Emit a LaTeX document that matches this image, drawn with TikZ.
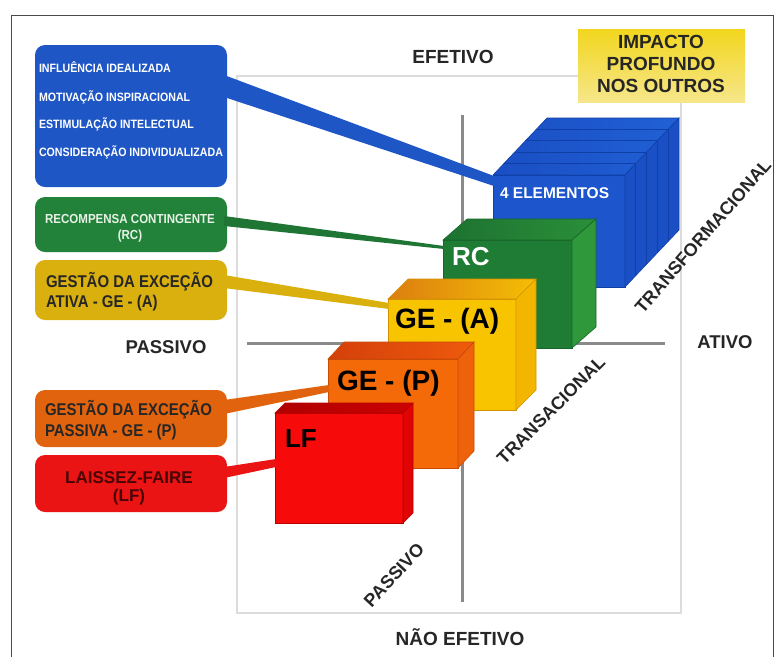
\documentclass[tikz,border=0pt]{standalone}
\usepackage{fontspec}
\setmainfont{Liberation Sans}
\newfontfamily\condf{Liberation Sans}[FakeStretch=0.88]
\usetikzlibrary{calc}
\definecolor{frameC}{HTML}{4A4A4A}
\definecolor{innerC}{HTML}{DCDCDC}
\definecolor{axisC}{HTML}{8A8A8A}
\definecolor{blueC}{HTML}{1E56C5}
\definecolor{blueF}{HTML}{1D55CC}
\definecolor{blueTopL}{HTML}{1A4EC4}
\definecolor{blueTopR}{HTML}{2160D6}
\definecolor{blueSide}{HTML}{1A4FC6}
\definecolor{blueEdge}{HTML}{1040A6}
\definecolor{greenC}{HTML}{22823A}
\definecolor{greenF}{HTML}{1F7C34}
\definecolor{greenTopL}{HTML}{1D7230}
\definecolor{greenTopR}{HTML}{2A8F3A}
\definecolor{greenSide}{HTML}{2E983A}
\definecolor{greenEdge}{HTML}{17672A}
\definecolor{yellowC}{HTML}{DAB00E}
\definecolor{yellowF}{HTML}{F8C400}
\definecolor{yellowTopL}{HTML}{DC7E10}
\definecolor{yellowTopR}{HTML}{F4BE05}
\definecolor{yellowSide}{HTML}{F3B600}
\definecolor{yellowEdge}{HTML}{D49200}
\definecolor{orangeC}{HTML}{E1630E}
\definecolor{orangeF}{HTML}{F56A08}
\definecolor{orangeTopL}{HTML}{D4400A}
\definecolor{orangeTopR}{HTML}{EE5A0C}
\definecolor{orangeSide}{HTML}{EE620C}
\definecolor{orangeEdge}{HTML}{C84A06}
\definecolor{redC}{HTML}{EA1414}
\definecolor{redF}{HTML}{F70A0A}
\definecolor{redTopL}{HTML}{B00000}
\definecolor{redTopR}{HTML}{CC0202}
\definecolor{redSide}{HTML}{E00404}
\definecolor{redEdge}{HTML}{B80000}
\definecolor{impactC}{HTML}{F2D61E}
\definecolor{impactL}{HTML}{F6E68A}
\definecolor{darkTxt}{HTML}{262626}
\definecolor{redTxt}{HTML}{4A0404}
\definecolor{greenTxt}{HTML}{E6F2E6}

\newcommand{\cubefaces}[7]{%
  \shadedraw[left color=#4, right color=#5, draw=#7, line width=0.6pt]
    (#1.north west) -- ++(#2,#3) -- ($(#1.north east)+(#2,#3)$) -- (#1.north east) -- cycle;
  \filldraw[fill=#6, draw=#7, line width=0.6pt]
    (#1.north east) -- ++(#2,#3) -- ($(#1.south east)+(#2,#3)$) -- (#1.south east) -- cycle;
}

\begin{document}
\begin{tikzpicture}[x=1pt,y=-1pt,
  every node/.style={inner sep=0pt, outer sep=0pt},
  lbox/.style={rounded corners=10pt, minimum width=192pt, anchor=north west},
  cfront/.style={anchor=north west, line width=0.6pt},
  axlab/.style={font=\fontsize{19}{19}\selectfont\bfseries, text=darkTxt, anchor=base},
  sidelab/.style={font=\fontsize{18.5}{18.5}\selectfont\bfseries, text=darkTxt, anchor=base},
  diaglab/.style={font=\fontsize{18}{18}\selectfont\bfseries, text=darkTxt, anchor=center},
  btxt/.style={font=\condf\fontsize{12.1}{12.1}\selectfont\bfseries, text=white, anchor=base west},
  gtxt/.style={font=\condf\fontsize{13.1}{13.1}\selectfont\bfseries, text=greenTxt, anchor=base},
  ytxt/.style={font=\condf\fontsize{17}{17}\selectfont\bfseries, text=darkTxt, anchor=base west},
  rtxt/.style={font=\fontsize{17}{17}\selectfont\bfseries, text=redTxt, anchor=base},
  cubelab/.style={font=\fontsize{28}{28}\selectfont\bfseries, anchor=base west},
]
\useasboundingbox (0,0) rectangle (779,657);
\fill[white] (0,0) rectangle (779,657);
% outer frame
\draw[frameC, line width=0.8pt] (11,657) -- (11,15) -- (773,15) -- (773,657);
% inner rectangle
\draw[innerC, line width=1.5pt] (237,76) rectangle (681,613);
% axes
\draw[axisC, line width=3pt] (462,115) -- (462,602);
\draw[axisC, line width=3pt] (247,343) -- (665,343);

% axis labels
\node[axlab] (efet) at (453,63) {EFETIVO};
\node[axlab] (naoefet) at (460,645) {NÃO EFETIVO};
\node[sidelab] (passL) at (166,353) {PASSIVO};
\node[sidelab] (ativo) at (725,348) {ATIVO};

% impact box
\node[shade, top color=impactC, bottom color=impactL, minimum width=167pt, minimum height=73pt, anchor=north west] (imp) at (578,29) {};
\node[axlab] (imp1) at (661,48) {IMPACTO};
\node[axlab] (imp2) at (661,70) {PROFUNDO};
\node[axlab] (imp3) at (661,92) {NOS OUTROS};

% left boxes
\node[lbox, fill=blueC, minimum height=142pt] (bbox) at (35,45) {};
\node[lbox, fill=greenC, minimum height=55pt] (gbox) at (35,197) {};
\node[lbox, fill=yellowC, minimum height=60pt] (ybox) at (35,260) {};
\node[lbox, fill=orangeC, minimum height=57pt] (obox) at (35,390) {};
\node[lbox, fill=redC, minimum height=57pt] (rbox) at (35,455) {};

\node[btxt] (b1) at (39,72) {INFLUÊNCIA IDEALIZADA};
\node[btxt] (b2) at (39,101) {MOTIVAÇÃO INSPIRACIONAL};
\node[btxt] (b3) at (39,128) {ESTIMULAÇÃO INTELECTUAL};
\node[btxt] (b4) at (39,156) {CONSIDERAÇÃO INDIVIDUALIZADA};
\node[gtxt] (g1) at (130,223) {RECOMPENSA CONTINGENTE};
\node[gtxt] (g2) at (130,239) {(RC)};
\node[ytxt] (y1) at (46,287) {GESTÃO DA EXCEÇÃO};
\node[ytxt] (y2) at (46,307) {ATIVA - GE - (A)};
\node[ytxt] (o1) at (45,415) {GESTÃO DA EXCEÇÃO};
\node[ytxt] (o2) at (45,436) {PASSIVA - GE - (P)};
\node[rtxt] (r1) at (129,483) {LAISSEZ-FAIRE};
\node[rtxt] (r2) at (129,501) {(LF)};

% cube front nodes (created first so the connectors can refer to them)
\node[cfront, fill=blueF, draw=blueEdge, minimum width=132pt, minimum height=112pt] (cB) at (493,175) {};
\cubefaces{cB}{54}{-57}{blueTopL}{blueTopR}{blueSide}{blueEdge}
\foreach \k in {1,2,3,4} {
  \draw[blueEdge, line width=1pt] ($(cB.north west)+(\k*10.8,-\k*11.4)$) -- ($(cB.north east)+(\k*10.8,-\k*11.4)$)
    -- ($(cB.south east)+(\k*10.8,-\k*11.4)$);
}
\node[font=\fontsize{15.5}{15.5}\selectfont\bfseries, text=white, anchor=base west] (lB) at (500,198) {4 ELEMENTOS};

% connectors (tapering wedges) drawn under the cubes in front
\fill[blueC] ($(bbox.north east)+(-3,30)$) -- ($(cB.north west)+(1,1)$) -- ($(cB.north west)+(1,11)$) -- ($(bbox.north east)+(-3,52)$) -- cycle;

\node[cfront, fill=greenF, draw=greenEdge, minimum width=129pt, minimum height=108pt] (cG) at (443,240) {};
\fill[greenC!90!black] ($(gbox.north east)+(-3,19)$) -- ($(cG.north west)+(1,6)$) -- ($(cG.north west)+(1,9)$) -- ($(gbox.north east)+(-3,29)$) -- cycle;
\cubefaces{cG}{24}{-21}{greenTopL}{greenTopR}{greenSide}{greenEdge}
\node[cubelab, text=white, font=\fontsize{26}{26}\selectfont\bfseries] (lG) at (452,265) {RC};

\node[cfront, fill=yellowF, draw=yellowEdge, minimum width=128pt, minimum height=111pt] (cY) at (388,299) {};
\fill[yellowC] ($(ybox.north east)+(-3,15)$) -- ($(cY.north west)+(1,4)$) -- ($(cY.north west)+(1,10)$) -- ($(ybox.north east)+(-3,28)$) -- cycle;
\cubefaces{cY}{20}{-20}{yellowTopL}{yellowTopR}{yellowSide}{yellowEdge}
\node[cubelab, text=black] (lY) at (395,328) {GE - (A)};

\node[cfront, fill=orangeF, draw=orangeEdge, minimum width=130pt, minimum height=109pt] (cO) at (328,359) {};
\fill[orangeC] ($(obox.north east)+(-3,10)$) -- ($(cO.north west)+(1,26)$) -- ($(cO.north west)+(1,33)$) -- ($(obox.north east)+(-3,24)$) -- cycle;
\cubefaces{cO}{16}{-17}{orangeTopL}{orangeTopR}{orangeSide}{orangeEdge}
\node[cubelab, text=black] (lO) at (337,390) {GE - (P)};

\node[cfront, fill=redF, draw=redEdge, minimum width=128pt, minimum height=110pt] (cR) at (275,413) {};
\fill[redC] ($(rbox.north east)+(-3,12)$) -- ($(cR.north west)+(1,46)$) -- ($(cR.north west)+(1,54)$) -- ($(rbox.north east)+(-3,23)$) -- cycle;
\cubefaces{cR}{10}{-10}{redTopL}{redTopR}{redSide}{redEdge}
\node[cubelab, text=black, font=\fontsize{26}{26}\selectfont\bfseries] (lR) at (285,447) {LF};

% diagonal labels
\node[diaglab, rotate=47] (dpass) at (394,575) {PASSIVO};
\node[diaglab, rotate=45] (dtrans) at (551,410) {TRANSACIONAL};
\node[diaglab, rotate=49] (dtransf) at (703,236) {TRANSFORMACIONAL};
\end{tikzpicture}
\end{document}
